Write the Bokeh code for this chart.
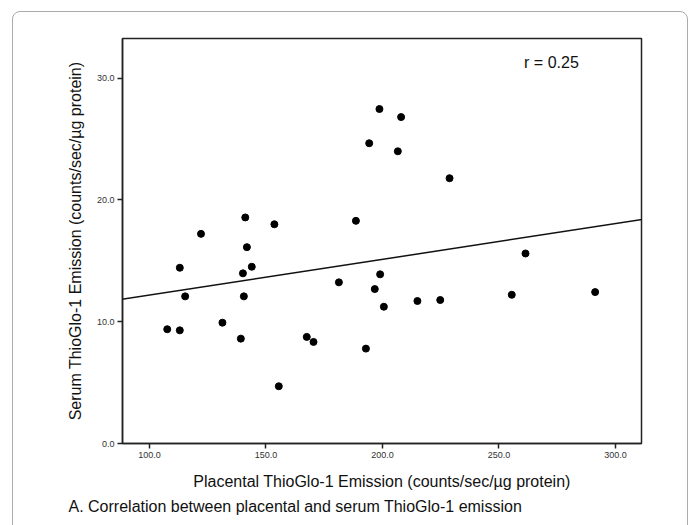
from bokeh.plotting import figure
from bokeh.models import (Range1d, FixedTicker, PrintfTickFormatter, Label, Slope,
                          Title, InlineStyleSheet)
from bokeh.embed import file_html
from bokeh.resources import INLINE
import numpy as np

placental = [107.6, 113.0, 113.0, 115.3, 122.1, 131.3, 139.2, 140.1, 140.5, 141.1,
             141.8, 143.9, 153.6, 155.5, 167.5, 170.4, 181.3, 188.6, 192.9, 194.3,
             196.7, 198.7, 199.0, 200.6, 206.6, 208.0, 215.0, 224.8, 228.8, 255.5,
             261.4, 291.3]
serum = [9.38, 9.29, 14.43, 12.08, 17.21, 9.92, 8.61, 13.97, 12.08, 18.56,
         16.12, 14.51, 18.00, 4.70, 8.75, 8.34, 13.23, 18.28, 7.79, 24.65,
         12.68, 27.46, 13.89, 11.23, 23.99, 26.80, 11.70, 11.78, 21.78, 12.21,
         15.60, 12.43]
x_ticks = [100, 150, 200, 250, 300]
y_ticks = [0, 10, 20, 30]
r_text = "r = 0.25"
x_label = "Placental ThioGlo-1 Emission (counts/sec/\u00b5g protein)"
y_label = "Serum ThioGlo-1 Emission (counts/sec/\u00b5g protein)"
caption = "A. Correlation between placental and serum ThioGlo-1 emission"

FONT = "Liberation Sans"

p = figure(width=687, height=517, output_backend="svg", toolbar_location=None,
           x_range=Range1d(88.4, 311.2), y_range=Range1d(0, 33.25),
           min_border_left=122, min_border_right=46, min_border_top=38,
           min_border_bottom=73)
p.background_fill_color = "white"
p.border_fill_color = "white"
p.grid.visible = False
p.outline_line_color = "#222222"
p.outline_line_width = 1.5

p.xaxis.ticker = FixedTicker(ticks=x_ticks)
p.yaxis.ticker = FixedTicker(ticks=y_ticks)
p.axis.formatter = PrintfTickFormatter(format="%.1f")
p.axis.minor_tick_line_color = None
p.axis.major_tick_in = 0
p.axis.major_tick_out = 5
p.axis.major_tick_line_color = "#222222"
p.axis.major_tick_line_width = 1.5
p.axis.axis_line_color = "#222222"
p.axis.axis_line_width = 1.5
p.axis.major_label_text_font = FONT
p.axis.major_label_text_font_size = "9px"
p.axis.major_label_text_color = "#333333"
p.axis.major_label_standoff = 3
p.axis.axis_label_text_font = FONT
p.axis.axis_label_text_font_size = "16px"
p.axis.axis_label_text_font_style = "normal"
p.axis.axis_label_text_color = "#111111"
p.xaxis.axis_label = x_label
p.yaxis.axis_label = y_label
p.xaxis.axis_label_standoff = 12
p.yaxis.axis_label_standoff = 10

p.scatter(placental, serum, size=7, color="black")

slope, intercept = np.polyfit(placental, serum, 1)
p.add_layout(Slope(gradient=float(slope), y_intercept=float(intercept),
                   line_color="#111111", line_width=1.5))

p.add_layout(Label(x=260.8, y=30.55, text=r_text, text_font=FONT,
                   text_font_size="16px", text_color="#111111"))

p.add_layout(Title(text=caption, align="left", offset=-54, standoff=6,
                   text_font=FONT, text_font_size="16px", text_font_style="normal",
                   text_color="#111111"), "below")

p.stylesheets = [InlineStyleSheet(css=(
    ":host::after { content: ''; position: absolute; left: 12px; top: 11px; "
    "width: 676px; height: 540px; border: 1px solid #ababab; border-radius: 8px; "
    "box-sizing: border-box; pointer-events: none; }"))]

open("out.html", "w").write(file_html(p, INLINE))
